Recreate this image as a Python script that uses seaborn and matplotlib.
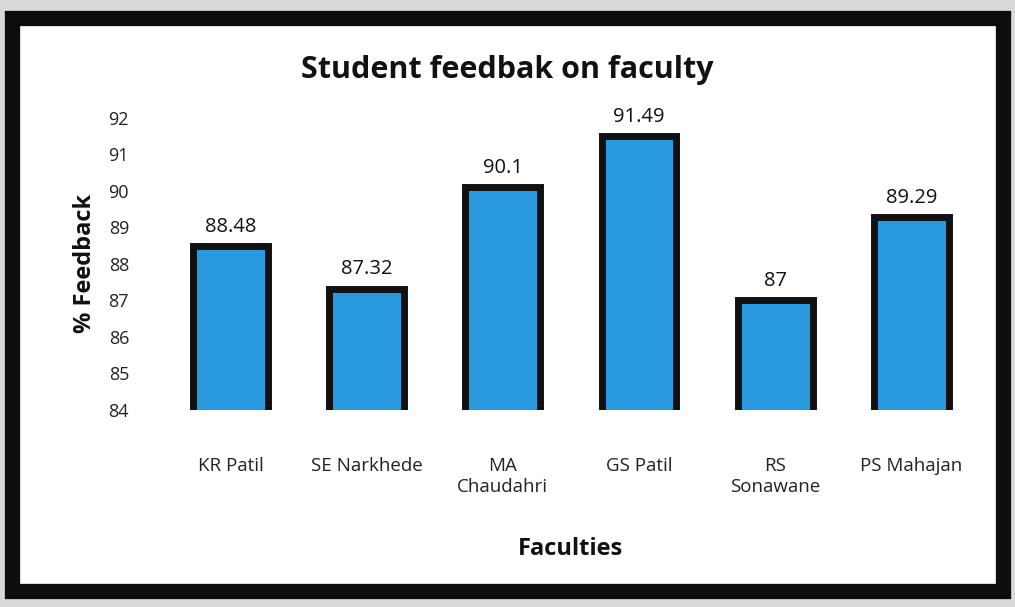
import matplotlib
matplotlib.use("Agg")
import matplotlib.pyplot as plt
import seaborn as sns
import pandas as pd
from matplotlib.patches import Rectangle

faculties = ["KR Patil", "SE Narkhede", "MA\nChaudahri", "GS Patil", "RS\nSonawane", "PS Mahajan"]
feedback = [88.48, 87.32, 90.1, 91.49, 87, 89.29]
value_labels = ["88.48", "87.32", "90.1", "91.49", "87", "89.29"]
yticks = [84, 85, 86, 87, 88, 89, 90, 91, 92]

df = pd.DataFrame({"Faculty": faculties, "Feedback": feedback})

sns.set_theme(style="white")
plt.rcParams['font.family'] = ['Open Sans', 'DejaVu Sans']

fig = plt.figure(figsize=(10.15, 6.07), dpi=100)
fig.patch.set_facecolor("#d9d9d9")
# framed white panel
fig.patches.append(Rectangle((0.012, 0.027), 0.976, 0.943, transform=fig.transFigure,
                             facecolor="white", edgecolor="#0d0d0d", linewidth=11, zorder=-10))

ax = fig.add_axes([0.16, 0.325, 0.805, 0.481])
ax.set_zorder(5)
ax.set_facecolor("none")
sns.barplot(data=df, x="Faculty", y="Feedback", ax=ax, color="#2a9ae0",
            width=0.55, edgecolor="#111111", linewidth=5, saturation=1)
ax.set_ylim(84, 92)
ax.set_yticks(yticks)
ax.set_yticklabels([str(t) for t in yticks], fontsize=13, color="#222222")
ax.tick_params(axis="x", labelsize=13.5, colors="#222222", length=0, pad=34)
ax.tick_params(axis="y", length=0, pad=24)
for s in ax.spines.values():
    s.set_visible(False)
for i, (v, lab) in enumerate(zip(feedback, value_labels)):
    ax.text(i, v + 0.25, lab, ha="center", va="bottom", fontsize=14.5, color="#111111")

ax.set_xlabel("Faculties", fontsize=17, fontweight="bold", labelpad=30, color="#111111")
ax.set_ylabel("% Feedback", fontsize=17, fontweight="bold", labelpad=8, color="#111111")
fig.text(0.5, 0.885, "Student feedbak on faculty", ha="center", va="center",
         fontsize=22, fontweight="bold", color="#111111", zorder=6)

fig.savefig("out.png", dpi=100, facecolor=fig.get_facecolor())
